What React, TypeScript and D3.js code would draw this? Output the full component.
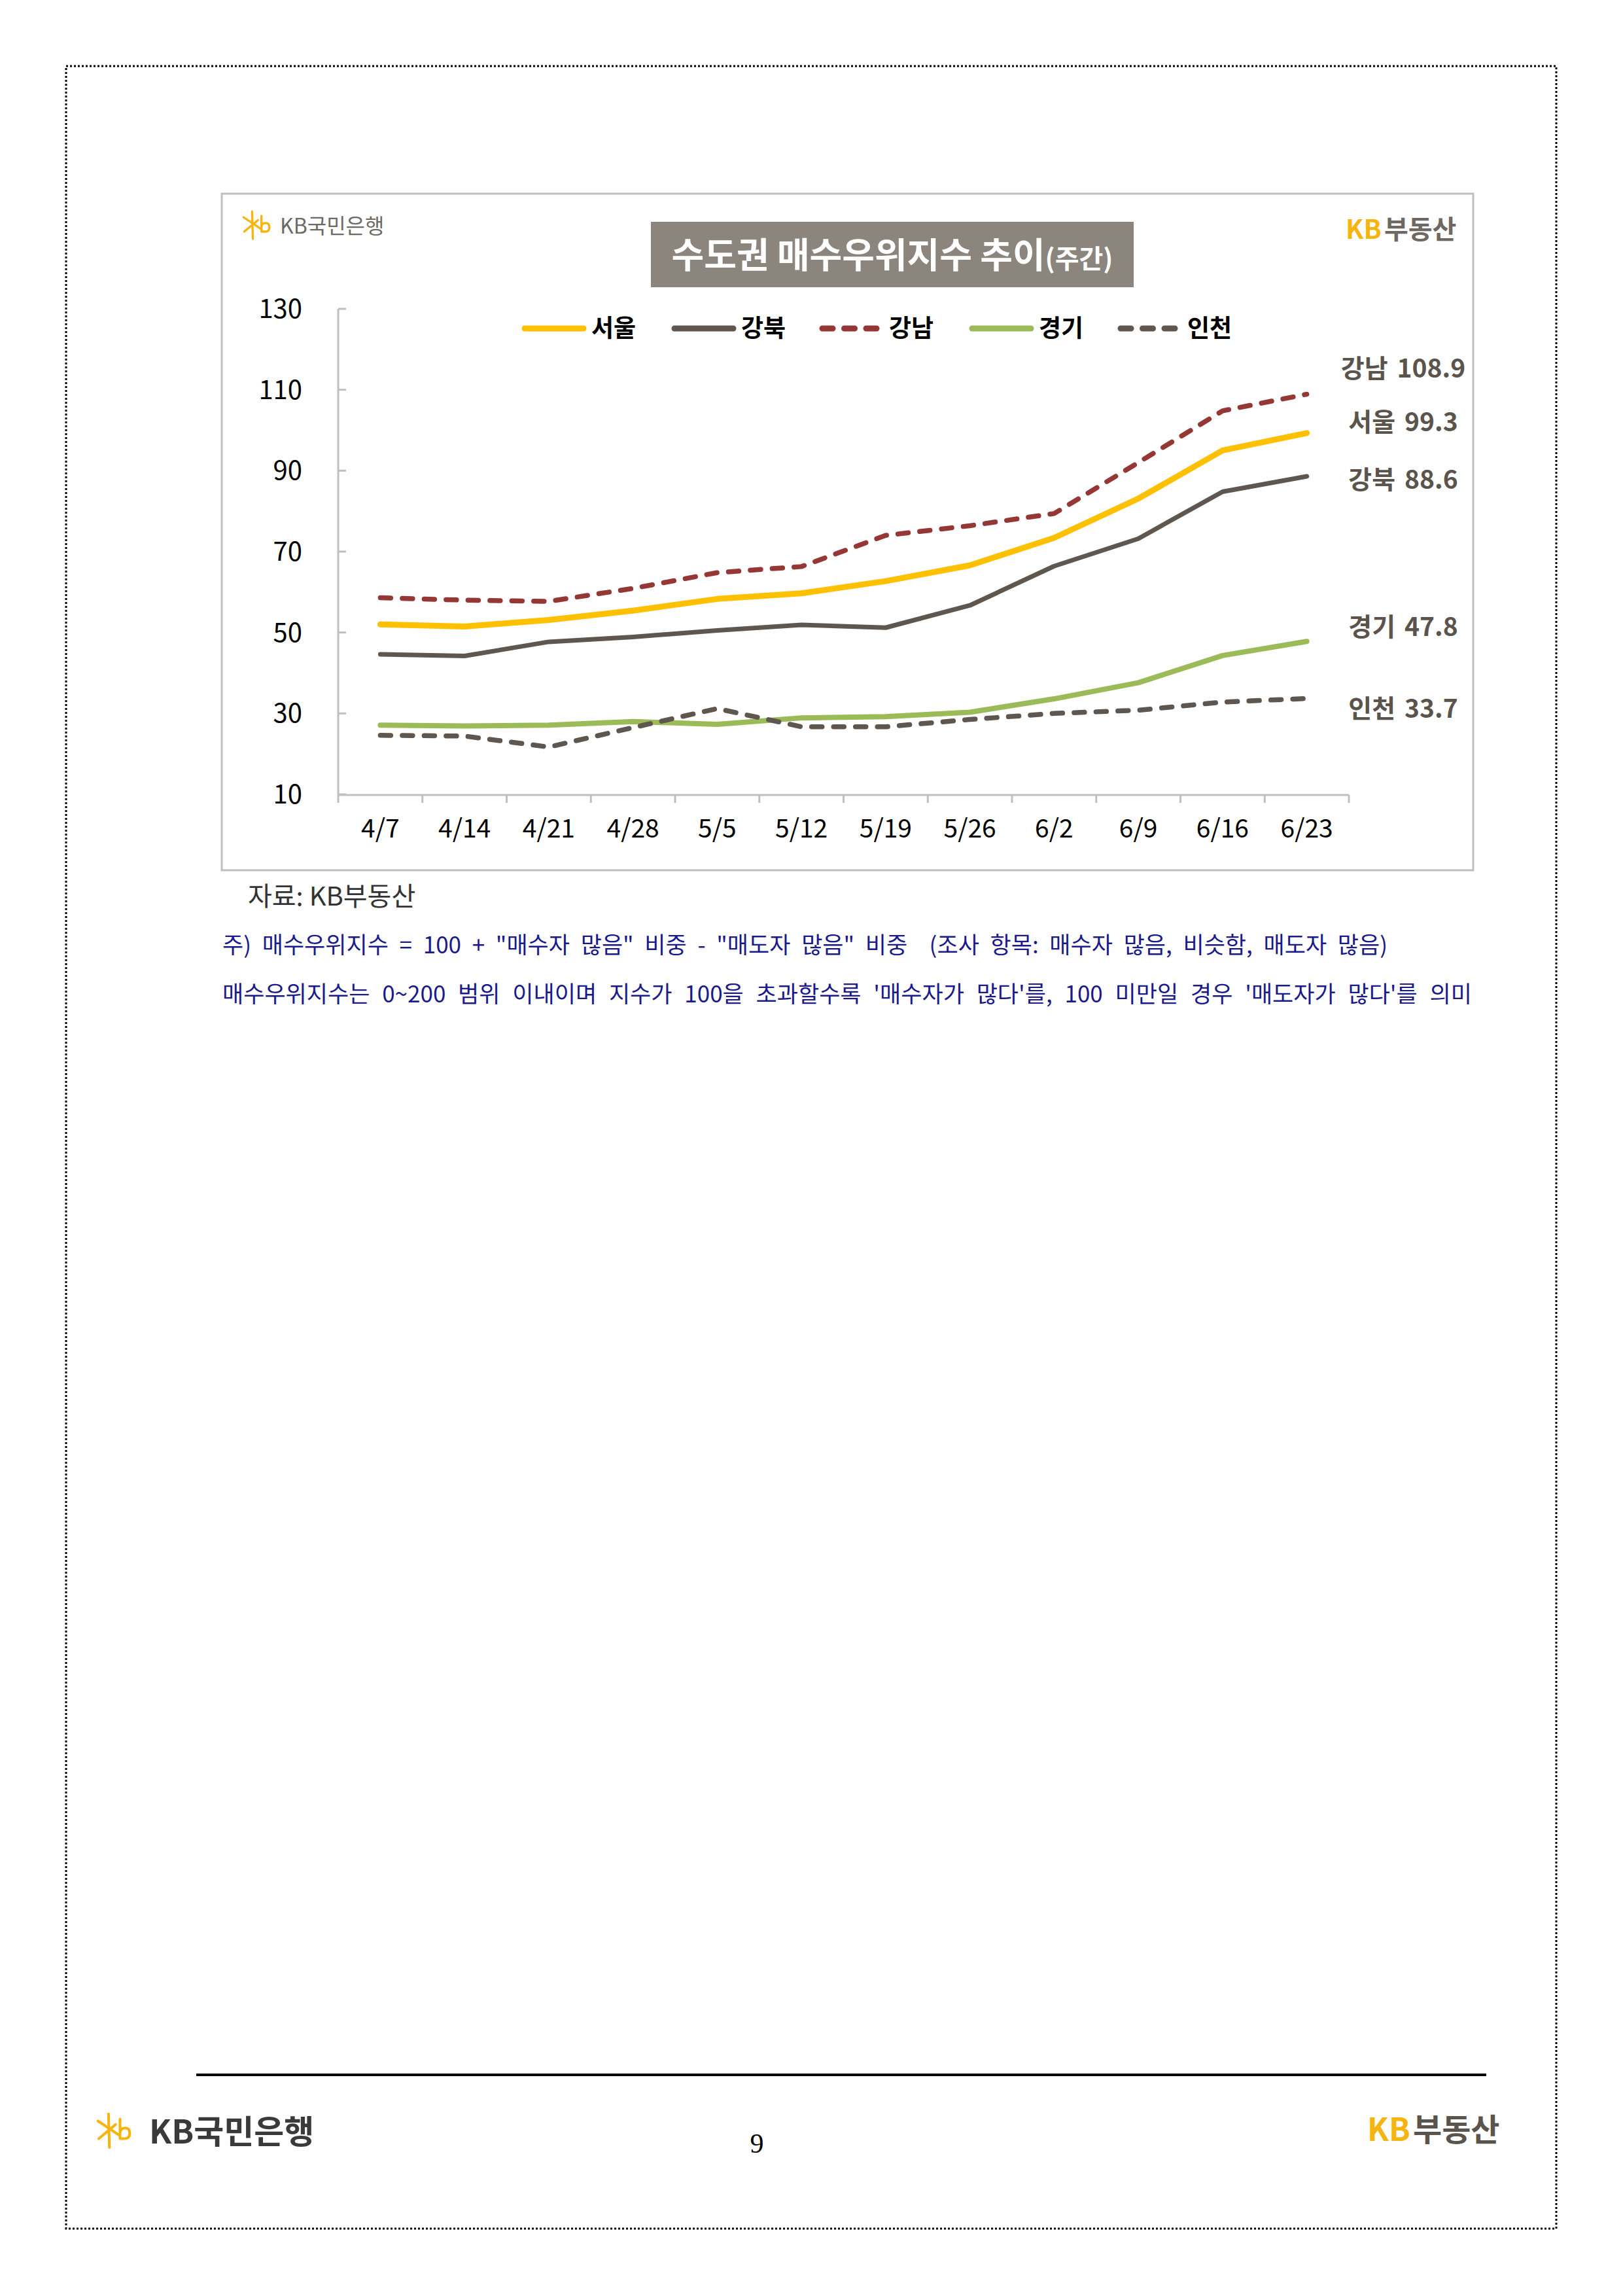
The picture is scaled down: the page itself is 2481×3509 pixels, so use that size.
import { useLayoutEffect, useRef } from "react";
import * as d3 from "d3";

const weeks = ["4/7", "4/14", "4/21", "4/28", "5/5", "5/12", "5/19", "5/26", "6/2", "6/9", "6/16", "6/23"];
const seoul = [52.0, 51.5, 53.1, 55.4, 58.3, 59.7, 62.7, 66.6, 73.4, 83.1, 95.0, 99.3];
const gangbuk = [44.6, 44.2, 47.7, 48.9, 50.5, 51.9, 51.2, 56.7, 66.4, 73.2, 84.8, 88.6];
const gangnam = [58.6, 58.0, 57.7, 60.9, 64.8, 66.3, 74.0, 76.4, 79.4, 92.0, 104.8, 108.9];
const gyeonggi = [27.1, 26.9, 27.1, 28.0, 27.3, 28.9, 29.2, 30.3, 33.6, 37.6, 44.3, 47.8];
const incheon = [24.6, 24.4, 21.7, 26.5, 31.2, 26.7, 26.7, 28.5, 30.0, 30.8, 32.8, 33.7];
const yTicks = [10, 30, 50, 70, 90, 110, 130];

const note1 = '주) 매수우위지수 = 100 + "매수자 많음" 비중 - "매도자 많음" 비중  (조사 항목: 매수자 많음, 비슷함, 매도자 많음)';
const note2 = "매수우위지수는 0~200 범위 이내이며 지수가 100을 초과할수록 '매수자가 많다'를, 100 미만일 경우 '매도자가 많다'를 의미";

const series = [
  { name: "서울", values: seoul, color: "#ffc000", width: 9, dash: null, labelY: 645, legendX: 798 },
  { name: "강북", values: gangbuk, color: "#5f574f", width: 7, dash: null, labelY: 733, legendX: 1027 },
  { name: "강남", values: gangnam, color: "#953735", width: 7.5, dash: "16 17.5", labelY: 563, legendX: 1253 },
  { name: "경기", values: gyeonggi, color: "#9bbb59", width: 8, dash: null, labelY: 958, legendX: 1482 },
  { name: "인천", values: incheon, color: "#5f574f", width: 7.5, dash: "16 17.5", labelY: 1083, legendX: 1709 },
];

const FONT = "'Noto Sans CJK KR', 'Noto Sans', sans-serif";

function KbIcon({ x, y, s }: { x: number; y: number; s: number }) {
  // 노란 별 모양 + b
  return (
    <g transform={`translate(${x},${y}) scale(${s})`} stroke="#f6b40e" strokeWidth={3} strokeLinecap="round" fill="none">
      <line x1={2} y1={10} x2={26} y2={26} />
      <line x1={14} y1={2} x2={15} y2={40} />
      <line x1={3} y1={30} x2={22} y2={14} />
      <path d="M27 8 L27 30 M27 24 Q27 18 33 18 Q38 18 38 24 Q38 30 32 30 L27 30" />
    </g>
  );
}

// 양쪽 정렬처럼 단어 간격만 늘림
function JustText({ x, y, width, text, size, fill }: { x: number; y: number; width: number; text: string; size: number; fill: string }) {
  const ref = useRef<SVGTextElement>(null);
  useLayoutEffect(() => {
    const el = ref.current;
    if (!el) return;
    el.setAttribute("word-spacing", "0");
    const natural = el.getComputedTextLength();
    const spaces = (text.match(/ /g) || []).length;
    if (spaces > 0 && natural < width) el.setAttribute("word-spacing", String((width - natural) / spaces));
  }, [text, width]);
  return (
    <text ref={ref} x={x} y={y} fontSize={size} fill={fill} style={{ whiteSpace: "pre" }}>
      {text}
    </text>
  );
}

export default function App() {
  const x = d3.scaleBand<string>().domain(weeks).range([517, 2062]).paddingInner(0).paddingOuter(0);
  const y = d3.scaleLinear().domain([10, 130]).range([1214, 472]);
  const cx = (w: string) => (x(w) ?? 0) + x.bandwidth() / 2;
  const line = d3
    .line<number>()
    .x((_, i) => cx(weeks[i]))
    .y((d) => y(d));
  const tickXs = [...weeks.map((w) => x(w) ?? 0), 2062];

  return (
    <svg
      width={2481}
      height={3509}
      style={{ position: "absolute", left: 0, top: 0, display: "block", background: "#fff" }}
      fontFamily={FONT}
    >
      <rect x={0} y={0} width={2481} height={3509} fill="#fff" />
      {/* page border */}
      <rect x={101} y={101} width={2278} height={3305} fill="none" stroke="#000" strokeWidth={3} strokeDasharray="3 3" />

      {/* chart box */}
      <rect x={339} y={296} width={1913} height={1034} fill="#fff" stroke="#bfbfbf" strokeWidth={3} />

      {/* top logos */}
      <KbIcon x={370} y={321} s={1.1} />
      <text x={428} y={357} fontSize={32} fill="#6d6a66">KB국민은행</text>
      <text x={2057} y={365} fontSize={40} fontWeight={700} fill="#f6b40e">KB</text>
      <text x={2116} y={365} fontSize={40} fontWeight={700} fill="#6e6762">부동산</text>

      {/* title */}
      <rect x={995} y={339} width={738} height={100} fill="#8b857e" />
      <text x={1364} y={410} textAnchor="middle" fill="#fff" fontWeight={700}>
        <tspan fontSize={54}>수도권 매수우위지수 추이</tspan>
        <tspan fontSize={40}>(주간)</tspan>
      </text>

      {/* y axis */}
      <line x1={517} y1={472} x2={517} y2={1215} stroke="#bfbfbf" strokeWidth={3} />
      {yTicks.map((t) => (
        <g key={t}>
          <line x1={517} x2={529} y1={y(t)} y2={y(t)} stroke="#bfbfbf" strokeWidth={3} />
          <text x={462} y={y(t)} dy="0.35em" textAnchor="end" fontSize={40} fill="#000">
            {t}
          </text>
        </g>
      ))}

      {/* x axis */}
      <line x1={517} y1={1215} x2={2062} y2={1215} stroke="#bfbfbf" strokeWidth={3} />
      {tickXs.map((tx, i) => (
        <line key={i} x1={tx} x2={tx} y1={1215} y2={1227} stroke="#bfbfbf" strokeWidth={3} />
      ))}
      {weeks.map((w) => (
        <text key={w} x={cx(w)} y={1280} textAnchor="middle" fontSize={39} fill="#000">
          {w}
        </text>
      ))}

      {/* lines */}
      {series.map((s) => (
        <path
          key={s.name}
          d={line(s.values) ?? ""}
          fill="none"
          stroke={s.color}
          strokeWidth={s.width}
          strokeDasharray={s.dash ?? undefined}
          strokeLinecap="round"
          strokeLinejoin="round"
        />
      ))}

      {/* legend */}
      {series.map((s) => (
        <g key={s.name}>
          <line
            x1={s.legendX + 4}
            x2={s.legendX + 94}
            y1={502}
            y2={502}
            stroke={s.color}
            strokeWidth={9}
            strokeLinecap="round"
            strokeDasharray={s.dash ?? undefined}
          />
          <text x={s.legendX + 106} y={502} dy="0.36em" fontSize={37} fontWeight={700} fill="#000">
            {s.name}
          </text>
        </g>
      ))}

      {/* end labels */}
      {series.map((s) => (
        <text key={s.name} x={2145} y={s.labelY} dy="0.36em" textAnchor="middle" fontSize={39} fontWeight={700} fill="#5b544d">
          {s.name}
          <tspan dx={14}>{s.values[s.values.length - 1].toFixed(1)}</tspan>
        </text>
      ))}

      {/* source & notes */}
      <text x={379} y={1384} fontSize={40} fill="#333">자료: KB부동산</text>
      <JustText x={340} y={1457} width={1781} text={note1} size={35} fill="#1a1a8c" />
      <JustText x={340} y={1532} width={1910} text={note2} size={35} fill="#1a1a8c" />

      {/* footer */}
      <line x1={300} x2={2272} y1={3171} y2={3171} stroke="#000" strokeWidth={4} />
      <KbIcon x={147} y={3228} s={1.35} />
      <text x={228} y={3276} fontSize={50} fontWeight={700} fill="#3a3a3a">KB국민은행</text>
      <text x={1157} y={3290} textAnchor="middle" fontSize={42} fontFamily="'Liberation Serif', serif" fill="#000">
        9
      </text>
      <text x={2090} y={3272} fontSize={48} fontWeight={700} fill="#f6b40e">KB</text>
      <text x={2160} y={3272} fontSize={48} fontWeight={700} fill="#5b544d">부동산</text>
    </svg>
  );
}
